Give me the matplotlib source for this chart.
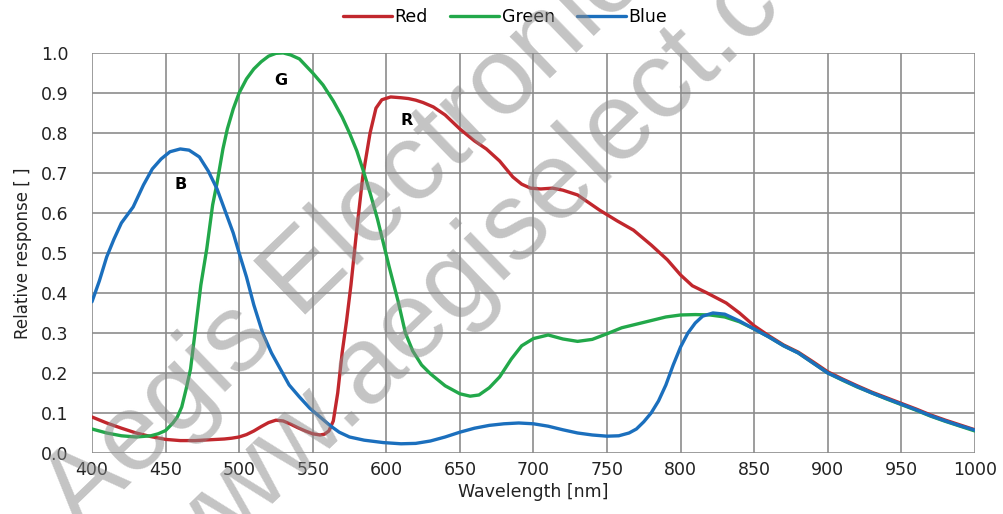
import numpy as np
import matplotlib.pyplot as plt

plt.rcParams['font.family'] = ['DejaVu Sans']

# Спектральна чутливість сенсора
red_wl = [400, 410, 420, 430, 440, 450, 460, 470, 480, 490, 495, 500, 505, 510, 515,
          520, 525, 530, 535, 540, 545, 550, 555, 558, 561, 564, 567, 570, 573, 576,
          580, 584, 589, 593, 597, 603, 610, 615, 620, 625, 632, 640, 650, 660, 668,
          677, 686, 692, 698, 705, 713, 720, 730, 745, 757, 768, 780, 791, 800, 808,
          818, 831, 840, 850, 860, 870, 880, 890, 900, 910, 920, 930, 940, 950, 960,
          970, 980, 990, 1000]
red = [0.09, 0.075, 0.062, 0.05, 0.041, 0.034, 0.031, 0.031, 0.033, 0.035, 0.037, 0.04,
       0.046, 0.055, 0.066, 0.076, 0.082, 0.08, 0.072, 0.063, 0.055, 0.048, 0.045,
       0.047, 0.055, 0.08, 0.15, 0.25, 0.33, 0.42, 0.56, 0.69, 0.8, 0.862, 0.883, 0.89,
       0.888, 0.886, 0.882, 0.876, 0.865, 0.845, 0.81, 0.78, 0.76, 0.73, 0.69, 0.672,
       0.662, 0.66, 0.662, 0.657, 0.645, 0.607, 0.58, 0.557, 0.52, 0.483, 0.445, 0.418,
       0.4, 0.375, 0.35, 0.318, 0.293, 0.27, 0.252, 0.228, 0.203, 0.185, 0.168, 0.152,
       0.138, 0.124, 0.11, 0.095, 0.082, 0.07, 0.058]

green_wl = [400, 410, 420, 430, 440, 445, 450, 455, 458, 461, 464, 467, 471, 474, 478,
            482, 485, 489, 492, 496, 500, 505, 510, 515, 520, 525, 530, 535, 541, 550,
            557, 564, 570, 575, 580, 584, 589, 594, 598, 602, 608, 613, 618, 624, 630,
            640, 650, 657, 663, 670, 677, 685, 692, 700, 710, 720, 730, 740, 750, 760,
            770, 780, 790, 800, 810, 820, 830, 840, 850, 860, 870, 880, 890, 900, 910,
            920, 930, 940, 950, 960, 970, 980, 990, 1000]
green = [0.06, 0.05, 0.043, 0.04, 0.043, 0.048, 0.056, 0.075, 0.09, 0.115, 0.16, 0.21,
         0.33, 0.42, 0.51, 0.62, 0.675, 0.76, 0.81, 0.86, 0.9, 0.935, 0.96, 0.978,
         0.992, 0.999, 1.0, 0.995, 0.985, 0.95, 0.92, 0.88, 0.84, 0.8, 0.755, 0.71, 0.65,
         0.585, 0.525, 0.465, 0.38, 0.3, 0.255, 0.22, 0.198, 0.168, 0.148, 0.142, 0.145,
         0.163, 0.19, 0.235, 0.268, 0.286, 0.295, 0.285, 0.279, 0.284, 0.298, 0.313,
         0.322, 0.331, 0.34, 0.345, 0.346, 0.345, 0.34, 0.328, 0.31, 0.29, 0.268, 0.25,
         0.225, 0.2, 0.182, 0.165, 0.15, 0.135, 0.121, 0.107, 0.092, 0.079, 0.067, 0.055]

blue_wl = [400, 405, 410, 415, 420, 428, 435, 441, 447, 453, 460, 466, 473, 479, 485,
           490, 496, 500, 505, 510, 516, 522, 528, 534, 541, 548, 555, 562, 568, 575,
           585, 598, 610, 620, 630, 640, 650, 660, 670, 680, 690, 700, 710, 720, 730,
           740, 750, 758, 765, 770, 775, 780, 785, 790, 795, 800, 805, 810, 815, 822,
           830, 840, 850, 860, 870, 880, 890, 900, 910, 920, 930, 940, 950, 960, 970,
           980, 990, 1000]
blue = [0.378, 0.43, 0.49, 0.535, 0.575, 0.615, 0.67, 0.71, 0.735, 0.753, 0.76, 0.757,
        0.74, 0.705, 0.66, 0.61, 0.55, 0.5, 0.44, 0.37, 0.3, 0.25, 0.21, 0.17, 0.14,
        0.112, 0.09, 0.068, 0.052, 0.04, 0.032, 0.026, 0.023, 0.024, 0.03, 0.04, 0.052,
        0.062, 0.069, 0.073, 0.075, 0.073, 0.067, 0.058, 0.05, 0.045, 0.042, 0.043, 0.05,
        0.06, 0.078, 0.1, 0.13, 0.17, 0.22, 0.265, 0.3, 0.325, 0.342, 0.35, 0.347, 0.33,
        0.31, 0.29, 0.268, 0.25, 0.225, 0.2, 0.183, 0.166, 0.15, 0.136, 0.122, 0.108,
        0.093, 0.08, 0.068, 0.057]

fig = plt.figure(figsize=(10.04, 5.14), dpi=100)
ax = fig.add_axes([0.0916, 0.1187, 0.8794, 0.7783])

ax.plot(red_wl, red, color='#c1272d', lw=2.4, label='Red', solid_capstyle='round')
ax.plot(green_wl, green, color='#22a84a', lw=2.4, label='Green', solid_capstyle='round')
ax.plot(blue_wl, blue, color='#1b6fbd', lw=2.4, label='Blue', solid_capstyle='round')

ax.text(460, 0.672, 'B', fontsize=11.5, fontweight='bold', ha='center', va='center')
ax.text(528, 0.93, 'G', fontsize=11.5, fontweight='bold', ha='center', va='center')
ax.text(614, 0.83, 'R', fontsize=11.5, fontweight='bold', ha='center', va='center')

# Налаштування осей
ax.set_xlim(400, 1000)
ax.set_ylim(0, 1.0)
ax.set_xticks(np.arange(400, 1001, 50))
ax.set_yticks(np.arange(0, 1.01, 0.1))
ax.yaxis.set_major_formatter(plt.FormatStrFormatter('%.1f'))
ax.tick_params(length=0, labelsize=12.5, colors='#222222')
ax.tick_params(axis='x', pad=6)
ax.tick_params(axis='y', pad=17)
ax.grid(color='#8c8c8c', lw=1.2)
ax.set_axisbelow(True)
for s in ax.spines.values():
    s.set_visible(False)
ax.set_xlabel('Wavelength [nm]', fontsize=12.5, color='#222222', labelpad=3)
ax.set_ylabel('Relative response [ ]', fontsize=12, color='#222222', labelpad=6)

ax.legend(loc='center', bbox_to_anchor=(0.468, 1.09), ncol=3, frameon=False,
          fontsize=12.5, handlelength=2.8, handletextpad=0.15, columnspacing=1.3,
          borderaxespad=0)

# Водяний знак
wm = dict(fontsize=79, family='Liberation Sans', color='#8a8a8a', alpha=0.5,
          rotation=44, rotation_mode='anchor', ha='left', va='baseline', zorder=10)
fig.text(0.08, -0.035, 'Aegis Electronics', **wm)
fig.text(0.178, -0.156, 'www.aegiselect.com', **wm)

fig.savefig('out.png', dpi=100)
